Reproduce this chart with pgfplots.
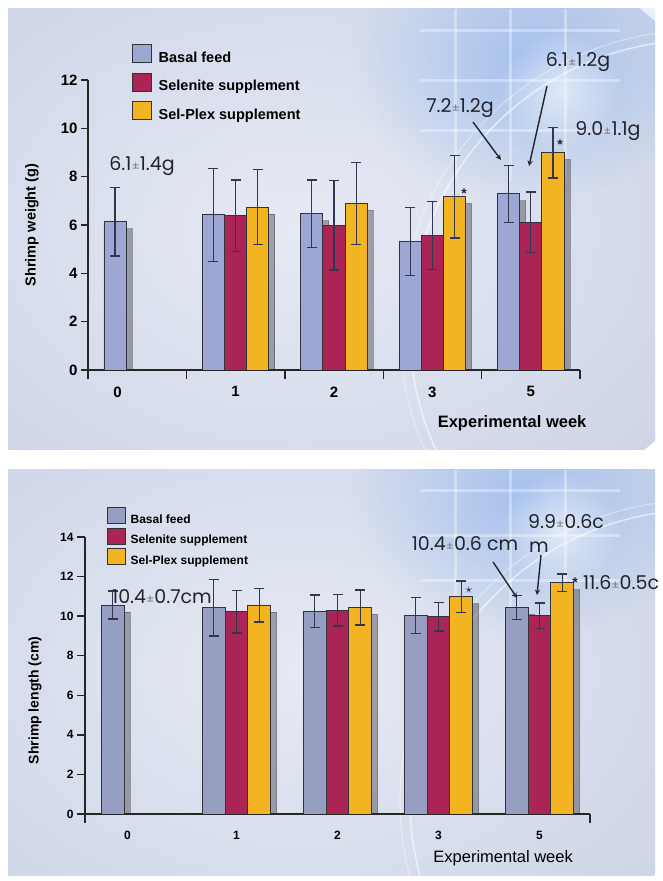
\documentclass[border=0pt]{standalone}
\usepackage{pgfplots}
\pgfplotsset{compat=1.18}
\usetikzlibrary{fadings}
\usepackage{fontspec}
\setmainfont{Liberation Sans}
\newfontfamily\annfont{Poppins}
\definecolor{bgl}{RGB}{230,234,244}
\definecolor{bgd}{RGB}{205,213,231}
\definecolor{glow}{RGB}{160,190,238}
\definecolor{basalA}{RGB}{158,166,212}
\definecolor{basalB}{RGB}{150,158,194}
\definecolor{selen}{RGB}{170,36,86}
\definecolor{plex}{RGB}{243,180,34}
\definecolor{edge}{RGB}{50,50,60}
\definecolor{ebar}{RGB}{50,54,78}
\definecolor{anncol}{RGB}{35,35,45}
\definecolor{pmcol}{RGB}{125,125,140}
\newcommand{\PM}{{\fontsize{12}{12}\selectfont\color{pmcol}±}}
\makeatletter
\tikzset{nopre/.code={\let\tikz@preactions\pgfutil@empty}}
\makeatother
\tikzfading[name=glowfade, inner color=transparent!0, outer color=transparent!100]
\pgfplotsset{
  shrimp/.style={
    scale only axis, anchor=south west,
    axis lines=left, axis line style={-, line width=1.4pt, draw=black!85},
    xmin=-0.5, xmax=4.5, ymin=0,
    ybar=0pt, bar width=0.225,
    tick align=outside,
    major x tick style={draw=none},
    minor x tick style={line width=1.4pt, draw=black!85},
    major y tick style={line width=1.4pt, draw=black!85},
    /pgf/number format/assume math mode=true,
    every axis y label/.style={rotate=90, anchor=center},
    every axis x label/.style={anchor=center},
  },
  barsty/.style={fill=#1, draw=edge, line width=0.9pt,
    preaction={fill=black!80, opacity=0.4, transform canvas={xshift=6pt,yshift=-7pt}},
    error bars/y dir=both, error bars/y explicit,
    error bars/error bar style={nopre, draw=ebar, line width=1.2pt},
    error bars/error mark options={nopre, draw=ebar, line width=1.4pt, mark size=5pt, rotate=90},
  },
  legA/.style={legend image code/.code={\draw[nopre,fill=#1,draw=edge,line width=0.9pt] (0pt,-5pt) rectangle (19pt,13pt); \path[nopre,draw=none,fill=none] (0pt,0pt) -- (24pt,0pt);}},
  legB/.style={legend image code/.code={\draw[nopre,fill=#1,draw=edge,line width=0.9pt] (0pt,-4pt) rectangle (18pt,12pt); \path[nopre,draw=none,fill=none] (0pt,0pt) -- (21pt,0pt);}},
}
\begin{document}
\begin{tikzpicture}[x=1pt,y=1pt]
\useasboundingbox (0,0) rectangle (662,881);
\fill[white] (0,0) rectangle (662,881);
% ---- backgrounds
\begin{scope}
\clip (8,431) rectangle (655,872);
\shade[inner color=bgl, outer color=bgd] (300,650) ellipse (460 and 330);
\fill[glow, path fading=glowfade, opacity=0.9] (530,820) ellipse (180 and 140);
\fill[white, path fading=glowfade, opacity=0.6] (560,790) circle (60);
\foreach \xx in {455,510,565} \draw[white, opacity=0.35, line width=3pt] (\xx,872) -- (\xx,700);
\foreach \yy in {850,800,750} \draw[white, opacity=0.35, line width=3pt] (420,\yy) -- (620,\yy);
\draw[white, opacity=0.55, line width=1.6pt] (700,551) circle (290);
\draw[white, opacity=0.35, line width=1.2pt] (700,551) circle (300);
\end{scope}
\begin{scope}
\clip (8,5) rectangle (655,411);
\shade[inner color=bgl, outer color=bgd] (300,210) ellipse (460 and 320);
\fill[glow, path fading=glowfade, opacity=0.9] (530,385) ellipse (180 and 140);
\fill[white, path fading=glowfade, opacity=0.6] (560,350) circle (60);
\foreach \xx in {455,510,565} \draw[white, opacity=0.35, line width=3pt] (\xx,411) -- (\xx,260);
\foreach \yy in {390,345,300} \draw[white, opacity=0.35, line width=3pt] (420,\yy) -- (620,\yy);
\draw[white, opacity=0.55, line width=1.6pt] (700,81) circle (290);
\draw[white, opacity=0.35, line width=1.2pt] (700,81) circle (300);
\end{scope}

% ---- top: weight
\begin{axis}[shrimp, at={(88pt,511pt)}, width=492pt, height=290pt,
  ymax=12, ytick={0,2,...,12},
  xtick={-0.2,1,2,3,4}, xticklabels={0,1,2,3,5},
  minor xtick={-0.5,0.5,1.5,2.5,3.5,4.5},
  major tick length=7pt, minor tick length=9pt,
  yticklabel style={font=\bfseries\fontsize{15}{15}\selectfont},
  xticklabel style={font=\bfseries\fontsize{15}{15}\selectfont, yshift=-6pt},
  ylabel={Shrimp weight (g)},
  ylabel style={at={(axis description cs:-0.114,0.5)}, font=\bfseries\fontsize{14.5}{15}\selectfont},
  xlabel={Experimental week},
  xlabel style={at={(axis description cs:0.862,-0.183)}, font=\bfseries\fontsize{16.5}{17}\selectfont},
  legend style={at={(axis description cs:0.0834,1.13)}, anchor=north west, draw=none, fill=none,
    font=\bfseries\fontsize{14.5}{17}\selectfont, row sep=7pt},
  legend cell align=left,
]
\addplot[barsty=basalA, legA=basalA]
 coordinates {(0,6.13) +- (0,1.42) (1,6.42) +- (0,1.93) (2,6.46) +- (0,1.40) (3,5.32) +- (0,1.41) (4,7.29) +- (0,1.18)};
\addlegendentry{Basal feed}
\addplot[barsty=selen, legA=selen]
 coordinates {(1,6.39) +- (0,1.48) (2,5.99) +- (0,1.85) (3,5.56) +- (0,1.40) (4,6.11) +- (0,1.25)};
\addlegendentry{Selenite supplement}
\addplot[barsty=plex, legA=plex]
 coordinates {(1,6.74) +- (0,1.55) (2,6.89) +- (0,1.70) (3,7.17) +- (0,1.71) (4,8.99) +- (0,1.04)};
\addlegendentry{Sel-Plex supplement}
\end{axis}

% ---- bottom: length
\begin{axis}[shrimp, at={(85pt,67pt)}, width=505pt, height=277pt,
  ymax=14, ytick={0,2,...,14},
  xtick={-0.08,1,2,3,4}, xticklabels={0,1,2,3,5},
  minor xtick={-0.5,4.5},
  major tick length=8pt, minor tick length=9pt,
  yticklabel style={font=\bfseries\fontsize{12}{12}\selectfont},
  xticklabel style={font=\bfseries\fontsize{12}{12}\selectfont, yshift=-6pt},
  ylabel={Shrimp length (cm)},
  ylabel style={at={(axis description cs:-0.099,0.41)}, font=\bfseries\fontsize{14}{15}\selectfont},
  xlabel={Experimental week},
  xlabel style={at={(axis description cs:0.828,-0.159)}, font=\fontsize{16.5}{17}\selectfont},
  legend style={at={(axis description cs:0.0376,1.116)}, anchor=north west, draw=none, fill=none,
    font=\bfseries\fontsize{12}{14}\selectfont, row sep=1pt},
  legend cell align=left,
]
\addplot[barsty=basalB, legB=basalB]
 coordinates {(0,10.56) +- (0,0.71) (1,10.42) +- (0,1.42) (2,10.25) +- (0,0.81) (3,10.02) +- (0,0.91) (4,10.44) +- (0,0.60)};
\addlegendentry{Basal feed}
\addplot[barsty=selen, legB=selen]
 coordinates {(1,10.22) +- (0,1.07) (2,10.30) +- (0,0.79) (3,9.97) +- (0,0.72) (4,10.02) +- (0,0.64)};
\addlegendentry{Selenite supplement}
\addplot[barsty=plex, legB=plex]
 coordinates {(1,10.56) +- (0,0.85) (2,10.44) +- (0,0.88) (3,10.98) +- (0,0.80) (4,11.68) +- (0,0.44)};
\addlegendentry{Sel-Plex supplement}
\end{axis}

% ---- annotations
\begin{scope}[every node/.style={font=\annfont\fontsize{19}{20}\selectfont, text=anncol, inner sep=0pt}]
\node at (142,715) {6.1\PM1.4g};
\node at (460,773) {7.2\PM1.2g};
\node at (578,819) {6.1\PM1.2g};
\node at (608,750) {9.0\PM1.1g};
\node[anchor=center] at (162,284) {10.4\PM0.7cm};
\node[anchor=center] at (465,337) {10.4\PM0.6 cm};
\node[anchor=west] at (528,359) {9.9\PM0.6c};
\node[anchor=west] at (529,334) {m};
\node[anchor=west] at (583,298) {11.6\PM0.5c};
\end{scope}
\draw[anncol, line width=1.4pt, -stealth] (473,759) -- (501,721);
\draw[anncol, line width=1.4pt, -stealth] (547,795) -- (529,715);
\draw[anncol, line width=1.4pt, -stealth] (493,319) -- (517,283);
\draw[anncol, line width=1.4pt, -stealth] (541,326) -- (537,286);
\node[font=\bfseries\fontsize{14}{14}\selectfont, text=anncol] at (464,687) {*};
\node[font=\bfseries\fontsize{14}{14}\selectfont, text=anncol] at (560,736) {*};
\node[font=\fontsize{15}{15}\selectfont, text=anncol] at (469,291) {$\star$};
\node[font=\bfseries\fontsize{14}{14}\selectfont, text=anncol] at (575,298) {*};
\end{tikzpicture}
\end{document}
